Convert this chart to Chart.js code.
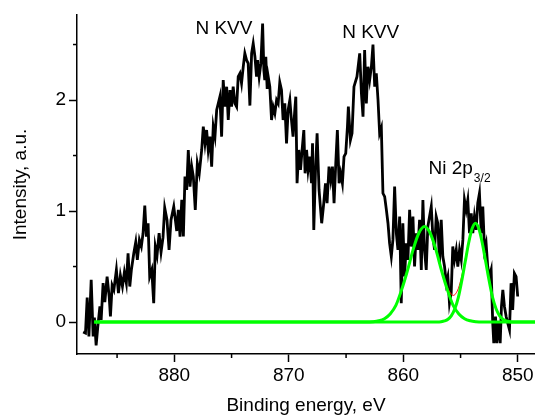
<!DOCTYPE html>
<html lang="en">
<head>
<meta charset="UTF-8">
<title>Ni 2p XPS</title>
<script src="https://cdn.jsdelivr.net/npm/chart.js@4.4.1/dist/chart.umd.min.js"></script>
<style>
    body { margin: 0; background: #fff; }
    .caixa { width: 535px; height: 417px; }
</style>
</head>
<body>
<div class="caixa"><canvas id="grafico"></canvas></div>
<script>
// measured spectrum (binding energy, eV / intensity, a.u.)
const energy = [
    887.96, 887.76, 887.61, 887.46, 887.26, 887.09, 886.98, 886.83, 886.68, 886.50,
    886.39, 886.22, 886.07, 885.87, 885.69, 885.58, 885.43, 885.28, 885.06, 884.88,
    884.71, 884.53, 884.36, 884.19, 884.04, 883.89, 883.75, 883.54, 883.37, 883.23,
    883.05, 882.88, 882.73, 882.58, 882.44, 882.29, 882.15, 881.97, 881.80, 881.66,
    881.51, 881.33, 881.16, 880.99, 880.84, 880.64, 880.46, 880.29, 880.05, 879.79,
    879.65, 879.50, 879.35, 879.21, 879.07, 878.92, 878.78, 878.63, 878.48, 878.34,
    878.17, 877.99, 877.82, 877.61, 877.47, 877.32, 877.18, 877.04, 876.89, 876.74,
    876.60, 876.45, 876.30, 876.16, 876.02, 875.87, 875.73, 875.58, 875.43, 875.29,
    875.14, 875.00, 874.86, 874.71, 874.56, 874.42, 874.27, 874.13, 873.98, 873.84,
    873.69, 873.55, 873.40, 873.25, 873.11, 872.96, 872.82, 872.73, 872.59, 872.44,
    872.29, 872.18, 872.10, 872.01, 871.89, 871.80, 871.66, 871.51, 871.37, 871.22,
    871.07, 870.93, 870.79, 870.64, 870.50, 870.35, 870.20, 870.06, 869.91, 869.77,
    869.63, 869.48, 869.39, 869.28, 869.13, 868.98, 868.84, 868.69, 868.58, 868.45,
    868.32, 868.17, 868.02, 867.93, 867.82, 867.67, 867.53, 867.36, 867.13, 866.95,
    866.80, 866.66, 866.49, 866.34, 866.19, 866.05, 865.90, 865.76, 865.61, 865.47,
    865.32, 865.18, 865.03, 864.88, 864.80, 864.62, 864.48, 864.31, 864.05, 863.81,
    863.66, 863.52, 863.38, 863.23, 863.09, 862.94, 862.79, 862.65, 862.50, 862.36,
    862.21, 862.07, 861.92, 861.78, 861.63, 861.48, 861.34, 861.20, 861.05, 860.91,
    860.76, 860.61, 860.47, 860.32, 860.18, 860.04, 859.89, 859.74, 859.60, 859.45,
    859.31, 859.16, 859.02, 858.87, 858.73, 858.58, 858.43, 858.29, 858.15, 858.00,
    857.86, 857.71, 857.56, 857.42, 857.27, 857.13, 856.99, 856.84, 856.69, 856.55,
    856.40, 856.25, 856.11, 855.97, 855.82, 855.68, 855.53, 855.38, 855.24, 855.09,
    854.94, 854.80, 854.66, 854.51, 854.37, 854.22, 854.07, 853.93, 853.79, 853.64,
    853.50, 853.35, 853.20, 853.06, 852.91, 852.77, 852.63, 852.48, 852.33, 852.19,
    852.10, 851.95, 851.84, 851.69, 851.54, 851.43, 851.31, 851.17, 851.02, 850.88,
    850.73, 850.59, 850.45, 850.30, 850.15, 850.01
];
const intensity = [
    -0.09, -0.10, 0.22, -0.13, 0.38, -0.13, 0.04, -0.21, -0.04, 0.14,
    0.02, 0.35, 0.18, 0.41, 0.23, 0.05, 0.33, 0.29, 0.47, 0.26,
    0.42, 0.32, 0.45, 0.35, 0.62, 0.32, 0.47, 0.62, 0.72, 0.56,
    0.74, 0.68, 0.80, 1.05, 0.77, 0.89, 0.41, 0.47, 0.17, 0.68,
    0.60, 0.80, 0.63, 0.76, 1.03, 0.92, 0.65, 0.92, 1.04, 0.82,
    1.01, 0.77, 1.10, 0.77, 1.31, 1.19, 1.55, 1.22, 1.40, 1.31,
    1.01, 1.43, 1.34, 1.55, 1.76, 1.61, 1.73, 1.55, 1.67, 1.40,
    1.76, 1.67, 1.91, 1.97, 2.03, 1.67, 2.18, 1.94, 2.12, 1.82,
    2.09, 1.94, 2.12, 1.97, 1.94, 2.21, 2.24, 2.15, 2.30, 2.42,
    2.36, 2.33, 1.95, 2.42, 2.51, 2.39, 2.21, 2.36, 2.21, 2.33,
    2.69, 2.27, 2.18, 2.39, 2.10, 2.21, 2.12, 1.82, 1.94, 1.88,
    2.00, 1.97, 2.16, 2.09, 1.82, 1.97, 1.61, 1.91, 2.00, 1.82,
    1.67, 1.91, 2.03, 1.25, 1.55, 1.37, 1.55, 1.73, 1.34, 1.55,
    1.37, 1.49, 1.25, 1.61, 0.83, 1.37, 1.70, 1.19, 0.89, 1.07,
    1.25, 1.07, 1.40, 1.28, 1.40, 1.07, 1.43, 1.73, 1.25, 1.34,
    1.25, 1.49, 1.52, 1.76, 1.94, 1.64, 1.70, 2.12, 2.21, 2.42,
    2.06, 1.85, 2.45, 1.97, 2.30, 2.18, 2.30, 2.50, 2.12, 2.24,
    2.00, 1.70, 1.75, 1.16, 1.13, 1.01, 0.89, 0.71, 0.59, 0.74,
    1.22, 0.80, 0.65, 0.95, 0.17, 0.89, 0.41, 0.71, 0.56, 1.01,
    0.68, 0.95, 0.50, 0.80, 0.65, 0.92, 0.47, 1.10, 0.65, 0.47,
    0.86, 0.95, 1.04, 0.77, 0.65, 0.95, 0.89, 0.53, 0.92, 0.59,
    0.50, 0.35, 0.41, 0.17, 0.26, 0.68, 0.56, 0.65, 0.50, 0.65,
    0.56, 0.74, 1.10, 1.01, 1.10, 0.80, 0.98, 0.80, 0.95, 0.83,
    1.07, 1.16, 0.80, 1.04, 0.65, 0.71, 0.50, 0.41, 0.47, -0.01,
    -0.19, 0.05, -0.19, -0.01, -0.19, 0.14, 0.29, 0.14, 0.05, -0.01,
    -0.07, 0.35, 0.11, 0.44, 0.41, 0.23
];

// fitted components (green) and envelope (red)
const peak1Energy = [887.0, 863.15, 862.65, 862.15, 861.65, 861.15, 860.65, 860.15, 859.65, 859.15, 858.65, 858.15,
    857.65, 857.15, 856.65, 856.15, 855.65, 855.15, 854.65, 854.15, 853.65, 853.15, 848.5];
const peak1Intensity = [0, 0, 0.003, 0.011, 0.030, 0.073, 0.15, 0.29, 0.46, 0.65, 0.80, 0.86,
    0.80, 0.65, 0.46, 0.29, 0.15, 0.073, 0.030, 0.011, 0.003, 0, 0];
const peak2Energy = [887.0, 857.0, 856.7, 856.4, 856.1, 855.8, 855.5, 855.2, 854.9, 854.6, 854.3, 854.0, 853.7,
    853.4, 853.1, 852.8, 852.5, 852.2, 851.9, 851.6, 851.3, 851.0, 850.7, 850.4, 848.5];
const peak2Intensity = [0, 0, 0.003, 0.010, 0.025, 0.058, 0.12, 0.22, 0.37, 0.54, 0.71, 0.84, 0.89,
    0.84, 0.71, 0.54, 0.37, 0.22, 0.12, 0.058, 0.025, 0.010, 0.003, 0, 0];
const envelopeEnergy = [856.6, 856.3, 856.0, 855.8, 855.6, 855.4, 855.2, 855.0, 854.8, 854.5];
const envelopeIntensity = [0.45, 0.35, 0.28, 0.25, 0.24, 0.26, 0.30, 0.37, 0.46, 0.62];

// axes
const xMajor = [850, 860, 870, 880];
const xMinor = [855, 865, 875, 885];
const yMajor = [0, 1, 2];
const yMinor = [0.5, 1.5, 2.5];

// peak labels
const labelText = ['N KVV', 'N KVV'];
const labelEnergy = [875.67, 862.85];
const labelIntensity = [2.64, 2.61];
const niEnergy = 857.8;
const niIntensity = 1.33;

const fonte = '"Liberation Sans", Arial, sans-serif';

function pontos(xs, ys) {
    return xs.map((v, i) => ({ x: v, y: ys[i] }));
}

// minor ticks + text labels
const extras = {
    id: 'extras',
    afterDraw(chart) {
        const ctx = chart.ctx;
        const sx = chart.scales.x;
        const sy = chart.scales.y;
        const area = chart.chartArea;
        ctx.save();
        ctx.strokeStyle = '#000';
        ctx.lineWidth = 1.5;
        xMinor.forEach(v => {
            const px = sx.getPixelForValue(v);
            ctx.beginPath();
            ctx.moveTo(px, area.bottom);
            ctx.lineTo(px, area.bottom + 4);
            ctx.stroke();
        });
        yMinor.forEach(v => {
            const py = sy.getPixelForValue(v);
            ctx.beginPath();
            ctx.moveTo(area.left, py);
            ctx.lineTo(area.left - 4, py);
            ctx.stroke();
        });

        ctx.fillStyle = '#000';
        ctx.font = '19px ' + fonte;
        ctx.textAlign = 'center';
        ctx.textBaseline = 'middle';
        labelText.forEach((t, i) => {
            ctx.fillText(t, sx.getPixelForValue(labelEnergy[i]), sy.getPixelForValue(labelIntensity[i]));
        });

        ctx.textAlign = 'left';
        ctx.textBaseline = 'alphabetic';
        const nx = sx.getPixelForValue(niEnergy);
        const ny = sy.getPixelForValue(niIntensity);
        ctx.fillText('Ni 2p', nx, ny);
        const w = ctx.measureText('Ni 2p').width;
        ctx.font = '12px ' + fonte;
        ctx.fillText('3/2', nx + w + 1, ny + 8);
        ctx.restore();
    }
};

new Chart(document.getElementById('grafico'), {
    type: 'line',
    data: {
        datasets: [
            {
                data: pontos(peak1Energy, peak1Intensity),
                borderColor: '#00ff00',
                borderWidth: 3,
                pointRadius: 0,
                cubicInterpolationMode: 'monotone'
            },
            {
                data: pontos(peak2Energy, peak2Intensity),
                borderColor: '#00ff00',
                borderWidth: 3,
                pointRadius: 0,
                cubicInterpolationMode: 'monotone'
            },
            {
                data: pontos(envelopeEnergy, envelopeIntensity),
                borderColor: '#ff0000',
                borderWidth: 1,
                pointRadius: 0,
                cubicInterpolationMode: 'monotone'
            },
            {
                data: pontos(energy, intensity),
                borderColor: '#000',
                borderWidth: 2.8,
                pointRadius: 0,
                tension: 0
            }
        ]
    },
    options: {
        responsive: true,
        maintainAspectRatio: false,
        animation: false,
        layout: { padding: { top: 15, right: 0, left: 0, bottom: 0 } },
        plugins: {
            legend: { display: false },
            tooltip: { enabled: false }
        },
        scales: {
            x: {
                type: 'linear',
                reverse: true,
                min: 848.5,
                max: 888.5,
                afterBuildTicks: s => { s.ticks = xMajor.map(v => ({ value: v })); },
                afterFit: s => { s.height = 63; },
                ticks: { color: '#000', font: { size: 19, family: fonte }, padding: 2, maxRotation: 0, autoSkip: false },
                grid: { drawOnChartArea: false, tickLength: 8, tickColor: '#000', tickWidth: 1.5 },
                border: { color: '#000', width: 1.5 },
                title: { display: true, text: 'Binding energy, eV', color: '#000', font: { size: 19, family: fonte }, padding: { top: 0, bottom: 0 } }
            },
            y: {
                min: -0.288,
                max: 2.766,
                afterBuildTicks: s => { s.ticks = yMajor.map(v => ({ value: v })); },
                afterFit: s => { s.width = 77; },
                ticks: { color: '#000', font: { size: 19, family: fonte }, padding: 3 },
                grid: { drawOnChartArea: false, tickLength: 8, tickColor: '#000', tickWidth: 1.5 },
                border: { color: '#000', width: 1.5 },
                title: { display: true, text: 'Intensity, a.u.', color: '#000', font: { size: 19, family: fonte }, padding: { top: 9, bottom: 0 } }
            }
        }
    },
    plugins: [extras]
});
</script>
</body>
</html>
